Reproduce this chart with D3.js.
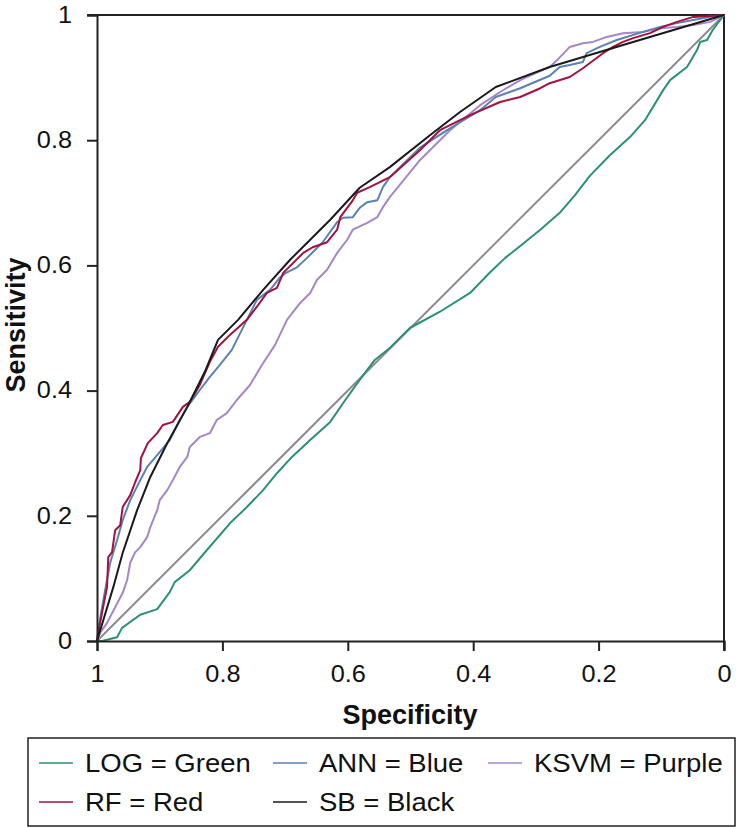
<!DOCTYPE html>
<html>
<head>
<meta charset="utf-8">
<script src="https://cdn.jsdelivr.net/npm/d3@7/dist/d3.min.js"></script>
<style>
  html, body { margin: 0; padding: 0; background: #fff; }
  svg { display: block; font-family: "Liberation Sans", Arial, Helvetica, sans-serif; }
</style>
</head>
<body>
<svg id="chart" width="738" height="828"></svg>
<script>
// ---- Data: [specificity, sensitivity] ----
const logData = [[1,0],[0.992,0],[0.968,0.006],[0.960,0.021],[0.931,0.042],[0.904,0.051],[0.884,0.078],[0.876,0.094],[0.852,0.113],[0.825,0.145],[0.788,0.188],[0.761,0.214],[0.735,0.241],[0.713,0.268],[0.692,0.291],[0.660,0.321],[0.628,0.350],[0.604,0.385],[0.581,0.417],[0.557,0.449],[0.533,0.468],[0.501,0.500],[0.453,0.526],[0.405,0.556],[0.373,0.589],[0.349,0.612],[0.325,0.631],[0.293,0.657],[0.262,0.684],[0.238,0.712],[0.214,0.743],[0.182,0.776],[0.150,0.805],[0.126,0.832],[0.097,0.880],[0.086,0.896],[0.059,0.917],[0.043,0.944],[0.038,0.957],[0.027,0.960],[0.018,0.976],[0.006,0.992],[0,1]];
const annData = [[1,0],[0.998,0.018],[0.990,0.065],[0.979,0.125],[0.968,0.161],[0.959,0.193],[0.947,0.225],[0.931,0.257],[0.920,0.278],[0.904,0.297],[0.884,0.321],[0.868,0.353],[0.856,0.374],[0.836,0.401],[0.820,0.422],[0.804,0.441],[0.785,0.465],[0.761,0.513],[0.745,0.545],[0.724,0.561],[0.708,0.581],[0.697,0.589],[0.681,0.597],[0.665,0.612],[0.640,0.637],[0.617,0.669],[0.608,0.676],[0.592,0.677],[0.581,0.692],[0.569,0.701],[0.553,0.704],[0.544,0.725],[0.533,0.741],[0.485,0.788],[0.437,0.819],[0.389,0.848],[0.364,0.869],[0.325,0.883],[0.278,0.903],[0.262,0.917],[0.246,0.920],[0.225,0.925],[0.219,0.939],[0.198,0.949],[0.171,0.960],[0.129,0.973],[0.102,0.981],[0.075,0.987],[0.049,0.992],[0.022,0.997],[0,1]];
const ksvmData = [[1,0],[0.995,0.013],[0.984,0.029],[0.971,0.054],[0.959,0.077],[0.952,0.097],[0.947,0.125],[0.939,0.142],[0.931,0.150],[0.920,0.166],[0.915,0.182],[0.904,0.209],[0.900,0.225],[0.888,0.241],[0.879,0.257],[0.868,0.278],[0.856,0.294],[0.852,0.310],[0.836,0.326],[0.820,0.332],[0.809,0.353],[0.793,0.364],[0.777,0.385],[0.756,0.409],[0.737,0.441],[0.716,0.473],[0.697,0.513],[0.676,0.540],[0.660,0.556],[0.649,0.577],[0.633,0.593],[0.617,0.620],[0.601,0.641],[0.592,0.657],[0.569,0.668],[0.553,0.677],[0.544,0.693],[0.533,0.709],[0.485,0.768],[0.437,0.816],[0.389,0.856],[0.357,0.877],[0.325,0.896],[0.278,0.917],[0.266,0.928],[0.246,0.949],[0.225,0.955],[0.209,0.957],[0.187,0.965],[0.161,0.971],[0.129,0.973],[0.102,0.979],[0.075,0.981],[0.049,0.984],[0.022,0.989],[0,1]];
const rfData = [[1,0],[0.998,0.013],[0.992,0.045],[0.984,0.086],[0.982,0.134],[0.976,0.142],[0.971,0.177],[0.963,0.185],[0.959,0.214],[0.947,0.233],[0.939,0.254],[0.931,0.273],[0.930,0.292],[0.919,0.316],[0.904,0.332],[0.895,0.345],[0.879,0.350],[0.863,0.374],[0.852,0.382],[0.836,0.409],[0.820,0.446],[0.807,0.470],[0.788,0.489],[0.761,0.513],[0.745,0.534],[0.729,0.556],[0.713,0.564],[0.703,0.588],[0.671,0.620],[0.656,0.629],[0.633,0.637],[0.617,0.657],[0.612,0.677],[0.592,0.704],[0.585,0.716],[0.565,0.725],[0.549,0.733],[0.533,0.741],[0.485,0.784],[0.453,0.816],[0.405,0.840],[0.357,0.861],[0.325,0.869],[0.293,0.883],[0.278,0.891],[0.246,0.901],[0.225,0.915],[0.193,0.939],[0.177,0.949],[0.161,0.957],[0.145,0.963],[0.118,0.971],[0.097,0.981],[0.075,0.989],[0.049,0.997],[0.027,0.998],[0,1]];
const sbData = [[1,0],[0.974,0.086],[0.959,0.141],[0.936,0.209],[0.915,0.262],[0.888,0.316],[0.856,0.374],[0.828,0.430],[0.807,0.481],[0.775,0.513],[0.735,0.561],[0.692,0.609],[0.628,0.673],[0.581,0.724],[0.533,0.757],[0.469,0.808],[0.421,0.845],[0.364,0.885],[0.278,0.917],[0.145,0.957],[0,1]];
const refLine = [[1,0],[0,1]];

const seriesNames = ["LOG = Green", "ANN = Blue", "KSVM = Purple", "RF = Red", "SB = Black"];
const seriesColors = ["#2b9270", "#5a82b4", "#a586c8", "#a3123f", "#1a1a1a"];
const seriesData = [logData, annData, ksvmData, rfData, sbData];

const tickValues = [0, 0.2, 0.4, 0.6, 0.8, 1];
const tickLabels = ["0", "0.2", "0.4", "0.6", "0.8", "1"];
const xTitle = "Specificity";
const yTitle = "Sensitivity";

// ---- Drawing ----
const svg = d3.select("#chart");
const mLeft = 97, mRight = 724, mTop = 15, mBottom = 641;
const x = d3.scaleLinear().domain([1, 0]).range([mLeft, mRight]);
const y = d3.scaleLinear().domain([0, 1]).range([mBottom, mTop]);

const line = d3.line().x(d => x(d[0])).y(d => y(d[1])).curve(d3.curveLinear);

// frame (top & right)
svg.append("path")
  .attr("d", `M${mLeft - 10},${mTop}H${mRight}V${mBottom + 10}`)
  .attr("fill", "none").attr("stroke", "#222").attr("stroke-width", 2);

// diagonal reference
svg.append("path").datum(refLine).attr("d", line)
  .attr("fill", "none").attr("stroke", "#8c8c8c").attr("stroke-width", 2);

// draw order: green, purple, blue, red, black
const order = [0, 2, 1, 3, 4];
order.forEach(i => {
  svg.append("path").datum(seriesData[i]).attr("d", line)
    .attr("fill", "none").attr("stroke", seriesColors[i])
    .attr("stroke-width", 2).attr("stroke-linejoin", "round");
});

const fmt = d => tickLabels[tickValues.indexOf(d)];
const sx = 1.1;

const xAxis = svg.append("g").attr("transform", `translate(0,${mBottom})`)
  .call(d3.axisBottom(x).tickValues(tickValues).tickFormat(fmt).tickSize(10).tickPadding(15));
const yAxis = svg.append("g").attr("transform", `translate(${mLeft},0)`)
  .call(d3.axisLeft(y).tickValues(tickValues).tickFormat(fmt).tickSize(10).tickPadding(15));

[xAxis, yAxis].forEach(g => {
  g.select(".domain").attr("stroke", "#222").attr("stroke-width", 2);
  g.selectAll(".tick line").attr("stroke", "#222").attr("stroke-width", 2);
  g.selectAll(".tick text").attr("font-size", 23).attr("fill", "#111")
    .attr("font-family", "Liberation Sans, Arial, sans-serif");
});
xAxis.selectAll(".tick text").attr("transform", `scale(${sx},1)`);
yAxis.selectAll(".tick text").attr("x", -25 / sx).attr("transform", `scale(${sx},1)`);

// axis titles
svg.append("text").attr("x", 410).attr("y", 724).attr("text-anchor", "middle")
  .attr("font-size", 27).attr("font-weight", "bold").attr("fill", "#111").text(xTitle);
svg.append("text").attr("transform", "translate(25,325) rotate(-90)").attr("text-anchor", "middle")
  .attr("font-size", 27).attr("font-weight", "bold").attr("fill", "#111").text(yTitle);

// legend
svg.append("rect").attr("x", 28).attr("y", 738).attr("width", 707).attr("height", 88)
  .attr("fill", "none").attr("stroke", "#222").attr("stroke-width", 1.5);
const legendPos = [[39, 763], [273, 763], [488, 763], [39, 802], [273, 802]];
seriesNames.forEach((name, i) => {
  const [lx, ly] = legendPos[i];
  const g = svg.append("g");
  g.append("line").attr("x1", lx).attr("x2", lx + 34).attr("y1", ly).attr("y2", ly)
    .attr("stroke", seriesColors[i]).attr("stroke-width", 1.5);
  g.append("text").attr("transform", `translate(${lx + 46},${ly + 9}) scale(${sx},1)`)
    .attr("font-size", 25).attr("fill", "#111").text(name);
});
</script>
</body>
</html>
